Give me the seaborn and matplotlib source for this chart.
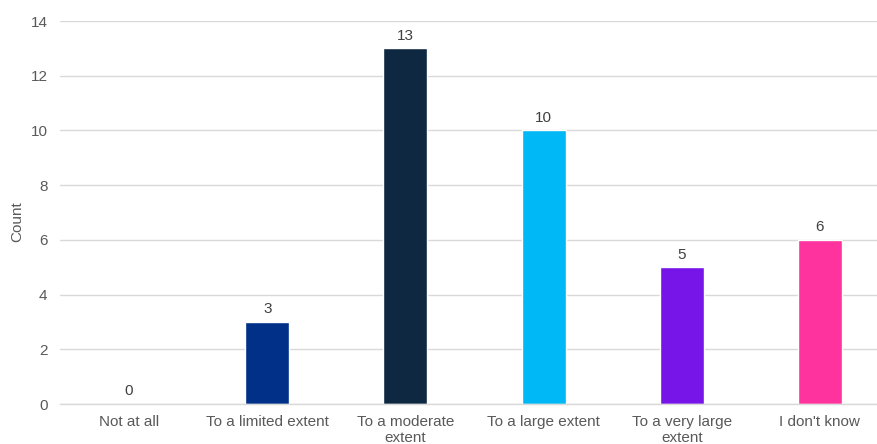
import matplotlib
matplotlib.use("Agg")
import matplotlib.pyplot as plt
import seaborn as sns
import pandas as pd

categories = ["Not at all", "To a limited extent", "To a moderate\nextent",
              "To a large extent", "To a very large\nextent", "I don't know"]
counts = [0, 3, 13, 10, 5, 6]
colors = ["#003087", "#003087", "#0E2841", "#00B8F5", "#7714E8", "#FF339E"]

sns.set_theme(style="white")
plt.rcParams['font.family'] = ['Liberation Sans', 'DejaVu Sans']

df = pd.DataFrame({"cat": categories, "count": counts})

fig = plt.figure(figsize=(8.77, 4.44), dpi=100)
W, H = 877, 444
left, right, bottom, top = 60, 877, 444 - 404, 444 - 21
ax = fig.add_axes([left / W, bottom / H, (right - left) / W, (top - bottom) / H])

sns.barplot(data=df, x="cat", y="count", hue="cat", palette=colors, legend=False,
            width=0.318, ax=ax, saturation=1)

ax.set_ylim(0, 14)
ax.set_yticks(range(0, 15, 2))
ax.set_xlim(-0.5, 5.5 - (889 - 877) / 138.25)
ax.yaxis.grid(True, color="#D9D9D9", linewidth=1)
ax.set_axisbelow(True)
for s in ["top", "right", "left"]:
    ax.spines[s].set_visible(False)
ax.spines["bottom"].set_color("#D9D9D9")
ax.spines["bottom"].set_linewidth(1)
ax.tick_params(axis="both", length=0, labelsize=11, labelcolor="#595959")
ax.tick_params(axis="x", pad=8)
ax.tick_params(axis="y", pad=9)
ax.set_xlabel("")
ax.set_ylabel("Count", fontsize=11, color="#595959")
ax.yaxis.set_label_coords(17 / W, 0.5, transform=fig.transFigure)
ax.yaxis.label.set_verticalalignment("center")

for i, v in enumerate(counts):
    ax.annotate(str(v), (i, v), xytext=(0, 4), textcoords="offset points",
                ha="center", va="bottom", fontsize=11, color="#404040")

fig.savefig("out.png", dpi=100)
